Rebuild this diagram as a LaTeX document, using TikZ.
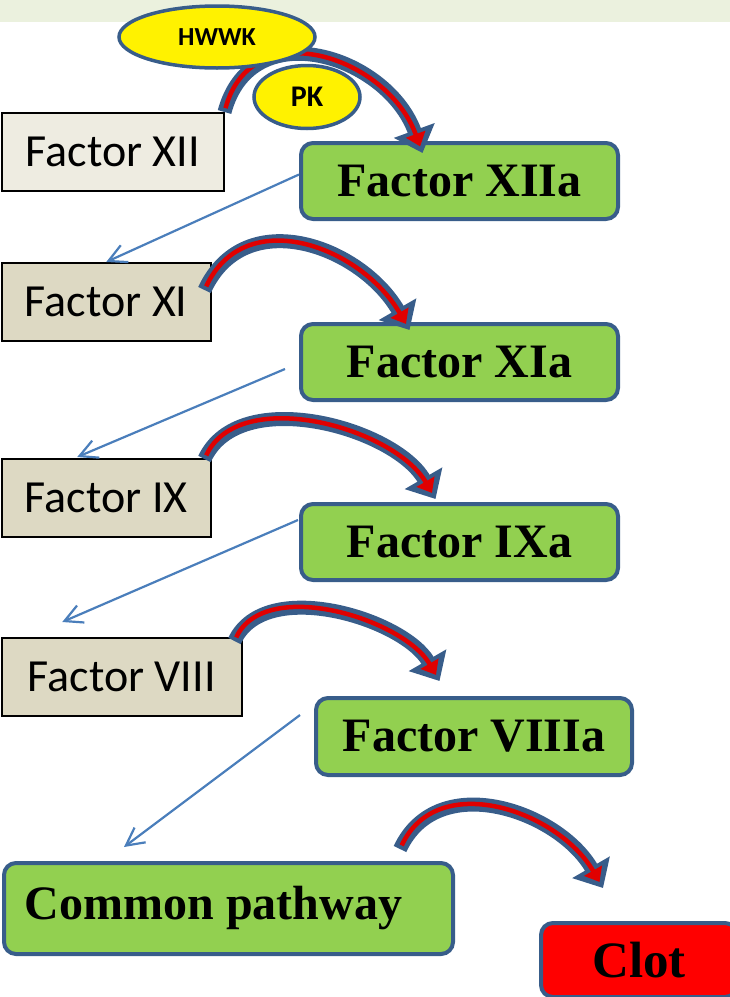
\documentclass[tikz,border=0pt]{standalone}
\usepackage{fontspec}
\usepackage{xcolor}
\usetikzlibrary{shapes.geometric, arrows.meta}
\newfontfamily\calibri{Carlito}
\newfontfamily\romanfont{Liberation Serif}
\definecolor{banner}{HTML}{EBF1DE}
\definecolor{paleXII}{HTML}{EEECE1}
\definecolor{tan}{HTML}{DDD9C3}
\definecolor{leafgreen}{HTML}{92D050}
\definecolor{edgeblue}{HTML}{385D8A}
\definecolor{thinblue}{HTML}{4A7EBB}
\definecolor{arrowred}{HTML}{E00000}
\definecolor{clotred}{HTML}{FF0000}
\tikzstyle{inactivebox} = [rectangle,
anchor=north west,
inner sep=0pt,
draw=black,
line width=1.5bp,
fill=tan,
minimum height=78bp,
font=\calibri\fontsize{46bp}{52bp}\selectfont]
\tikzstyle{activebox} = [rectangle,
anchor=north west,
inner sep=0pt,
rounded corners=12bp,
draw=edgeblue,
line width=4bp,
fill=leafgreen,
minimum width=317bp,
minimum height=76bp,
font=\romanfont\bfseries\fontsize{48bp}{56bp}\selectfont]
\tikzstyle{cofactor} = [ellipse,
inner sep=0pt,
draw=edgeblue,
line width=3.5bp,
fill=yellow,
font=\calibri\bfseries]
\tikzstyle{thinarrow} = [thinblue, line width=2.2bp, -{Straight Barb[angle=55:20bp]}]
\tikzstyle{curvearrow} = [draw=edgeblue, line width=14bp, -{Triangle[length=24bp,width=42bp]},
postaction={draw=arrowred, line width=4.5bp, shorten <=4bp, shorten >=7bp, -{Triangle[length=13bp,width=20bp]}}]

\begin{document}
\begin{tikzpicture}[x=1bp, y=1bp]

  \useasboundingbox (0,0) rectangle (730,-997);
  \clip (0,0) rectangle (730,-997);
  \fill [banner] (0,0) rectangle (730,-22);

  \node (fxii) [inactivebox, fill=paleXII, minimum width=222bp] at (1,-112) {Factor XII};
  \node (fxi) [inactivebox, minimum width=209bp] at (1,-262) {Factor XI};
  \node (fix) [inactivebox, minimum width=209bp] at (1,-458) {Factor IX};
  \node (fviii) [inactivebox, minimum width=240bp] at (1,-637) {Factor VIII};

  \node (fxiia) [activebox] at (299,-141) {Factor XIIa};
  \node (fxia) [activebox] at (299,-322) {Factor XIa};
  \node (fixa) [activebox] at (299,-502) {Factor IXa};
  \node (fviiia) [activebox, minimum width=316bp, minimum height=77bp] at (314,-696) {Factor VIIIa};
  \node (common) [activebox, minimum width=449bp, minimum height=91bp] at (2,-861) {Common pathway\hspace*{30bp}};
  \node (clot) [activebox, fill=clotred, minimum width=196bp, minimum height=74bp,
    font=\romanfont\bfseries\fontsize{51bp}{58bp}\selectfont] at (539,-921) {Clot};

  \draw [thinarrow] ([yshift=6.5bp]fxiia.west) -- (fxi.north);
  \draw [thinarrow] ([shift={(-14,-7)}]fxia.west) -- ([shift={(-29,1)}]fix.north);
  \draw [thinarrow] ([shift={(-1,22)}]fixa.west) -- ([shift={(-59.5,15)}]fviii.north);
  \draw [thinarrow] ([shift={(-14,21.5)}]fviiia.west) -- ([shift={(-104.5,14)}]common.north);

  \draw [curvearrow] (fxii.north east) to[out=75, in=110, looseness=1.31] ([shift={(-37,-12)}]fxiia.north);
  \draw [curvearrow] ([shift={(-7,-28)}]fxi.north east) to[out=65, in=120, looseness=1.18] ([shift={(-50,-8)}]fxia.north);
  \draw [curvearrow] ([shift={(-7,-1)}]fix.north east) to[out=65, in=120, looseness=0.9] ([shift={(-24,3)}]fixa.north);
  \draw [curvearrow] ([shift={(-8,-4)}]fviii.north east) to[out=65, in=120, looseness=0.88] ([shift={(-34.5,15)}]fviiia.north);
  \draw [curvearrow] ([shift={(-55,12)}]common.north east) to[out=65, in=120, looseness=1.1] ([shift={(-36,33)}]clot.north);

  \node (hwwk) [cofactor, minimum width=196bp, minimum height=62bp, font=\calibri\bfseries\fontsize{26bp}{30bp}\selectfont] at (217,-37) {HWWK};
  \node (pk) [cofactor, minimum width=106bp, minimum height=63bp, font=\calibri\bfseries\fontsize{30bp}{34bp}\selectfont] at (307,-97) {PK};

\end{tikzpicture}
\end{document}
